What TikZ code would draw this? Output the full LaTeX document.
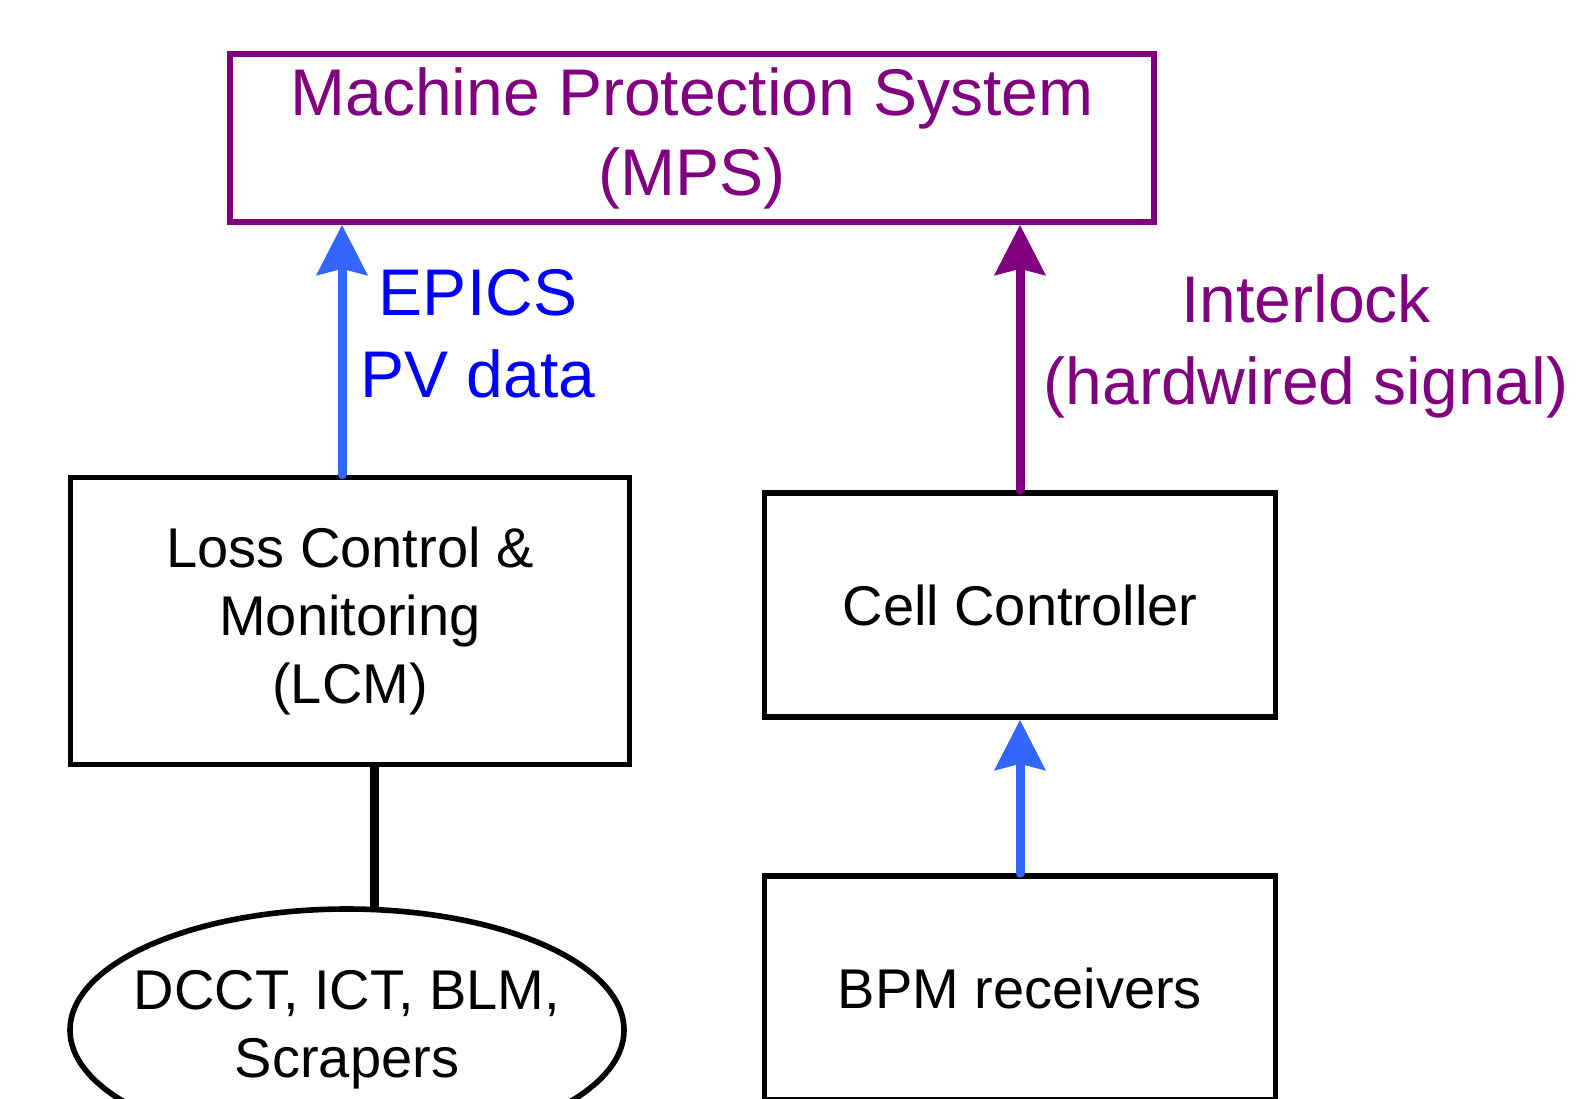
\documentclass[tikz,border=0pt]{standalone}
\usepackage{fontspec}
\setmainfont{Liberation Sans}
\usetikzlibrary{calc, arrows.meta, shapes.geometric}
\definecolor{mpspurple}{RGB}{128,0,128}
\definecolor{pvblue}{RGB}{51,102,255}
\definecolor{labelblue}{RGB}{0,0,255}

\begin{document}
\begin{tikzpicture}[x=0.5pt, y=-0.5pt, >={Stealth[length=25pt, width=25pt, inset=3pt]}]
				\tikzstyle{block} = [draw=black, line width=2.8pt, rectangle, align=center, inner sep=0pt, font=\fontsize{28}{34}\selectfont]
				\tikzstyle{mpsblock} = [draw=mpspurple, line width=2.8pt, rectangle, align=center, inner sep=0pt, text=mpspurple, font=\fontsize{33}{40}\selectfont]
				\tikzstyle{sensor} = [draw=black, line width=2.8pt, ellipse, inner sep=0pt]
				\tikzstyle{sensortext} = [align=center, inner sep=0pt, font=\fontsize{28}{34}\selectfont]
				\tikzstyle{invis} = [draw=none, align=center, inner sep=0pt, font=\fontsize{33}{41}\selectfont]
				\tikzstyle{pvline} = [draw=pvblue, fill=pvblue, line width=4.5pt, line cap=round]
				\tikzstyle{hardline} = [draw=mpspurple, fill=mpspurple, line width=4.5pt, line cap=round]
				\tikzstyle{wire} = [draw=black, line width=4.5pt, line cap=round]
				
				\useasboundingbox (0, 0) rectangle (1578, 1098);
				
				\node[mpsblock, minimum width=462pt, minimum height=84pt] 	at (692, 138) 	(mps) 	{Machine Protection System\\(MPS)};
				\node[block, minimum width=279.5pt, minimum height=143.5pt] 	at (350, 621) 	(lcm) 	{Loss Control \&\\Monitoring\\(LCM)};
				\node[block, minimum width=255.5pt, minimum height=112pt] 	at (1020, 605) 	(cc) 	{Cell Controller};
				\node[block, minimum width=255.5pt, minimum height=112pt] 	at (1020, 988) 	(bpm) 	{BPM receivers};
				\node[sensor, minimum width=277pt, minimum height=121pt, label={[sensortext]center:{DCCT, ICT, BLM,\\Scrapers}}] 	at (347, 1030) 	(sensors) 	{};
				\node[invis, text=labelblue] 	at (478, 334) 	(epics) 	{EPICS\\PV data};
				\node[invis, text=mpspurple] 	at (1306, 346) 	(interlock) 	{Interlock\\(hardwired signal)};
				
				\coordinate (pvfoot) at ([xshift=-4pt]lcm.north);
				\coordinate (wirefoot) at ([xshift=12pt]lcm.south);
				
				\draw[pvline, ->] (pvfoot) -- (pvfoot |- mps.south);
				\draw[pvline, ->] (bpm.north) -- (cc.south);
				\draw[hardline, ->] (cc.north) -- (cc.north |- mps.south);
				\draw[wire] (wirefoot) -- (wirefoot |- sensors.north);
				\end{tikzpicture}
\end{document}
